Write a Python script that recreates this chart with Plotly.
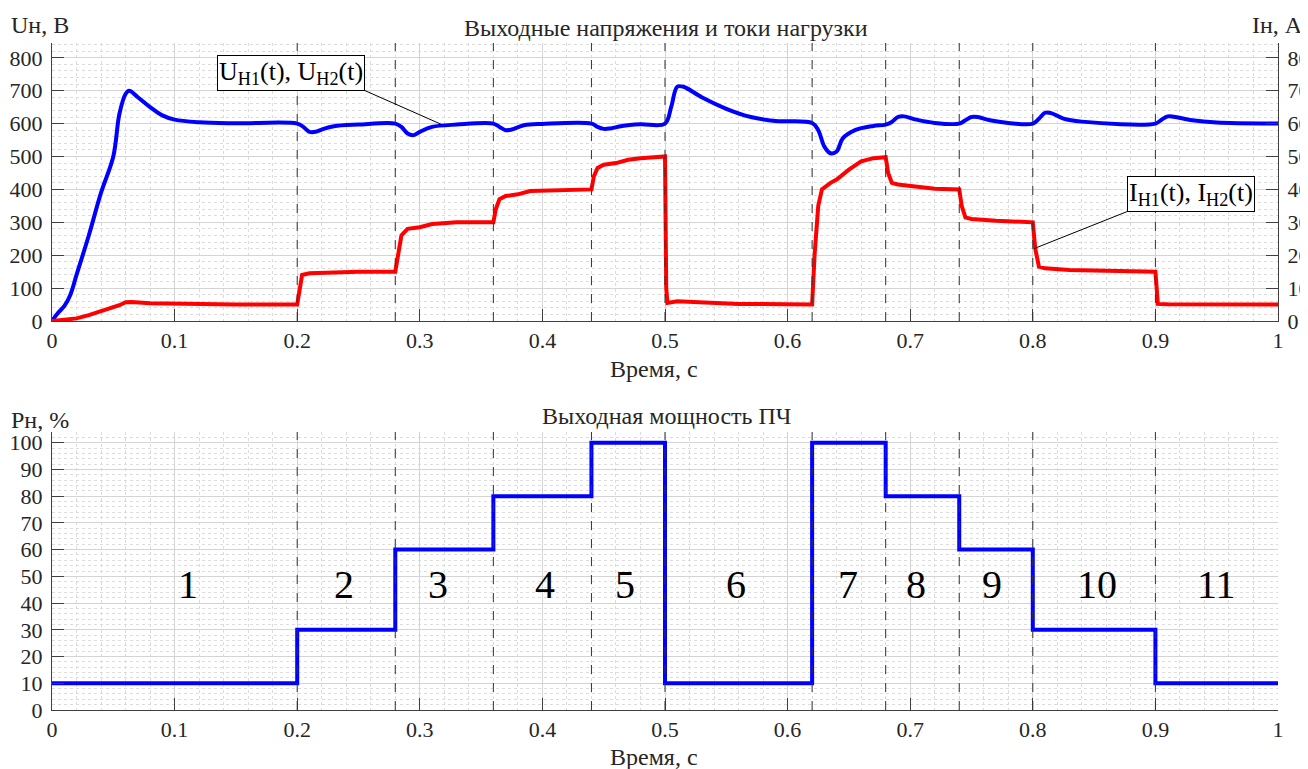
import plotly.graph_objects as go

# ---------------- data ----------------
t_u = [0, 0.005, 0.01, 0.015, 0.02, 0.03, 0.04, 0.05, 0.055, 0.06, 0.063, 0.07, 0.08, 0.09, 0.1,
       0.12, 0.15, 0.2, 0.205, 0.21, 0.215, 0.22, 0.23, 0.25, 0.28, 0.285, 0.29, 0.295, 0.3,
       0.31, 0.33, 0.36, 0.365, 0.37, 0.375, 0.385, 0.4, 0.44, 0.445, 0.45, 0.455, 0.465, 0.48,
       0.5, 0.505, 0.51, 0.515, 0.53, 0.55, 0.57, 0.59, 0.62, 0.625, 0.63, 0.635, 0.64, 0.645,
       0.655, 0.67, 0.68, 0.685, 0.69, 0.695, 0.705, 0.72, 0.74, 0.745, 0.75, 0.755, 0.765,
       0.78, 0.8, 0.805, 0.81, 0.815, 0.825, 0.84, 0.9, 0.905, 0.91, 0.915, 0.93, 0.95, 1.0]
u_vals = [0, 25, 45, 80, 140, 260, 390, 500, 630, 690, 700, 680, 650, 625, 612,
          604, 601, 600, 590, 575, 575, 582, 592, 597, 600, 590, 570, 565, 575,
          590, 597, 600, 590, 580, 582, 595, 599, 600, 590, 584, 585, 593, 598,
          600, 650, 712, 712, 680, 645, 620, 608, 602, 580, 530, 510, 515, 555,
          580, 593, 597, 605, 620, 622, 612, 602, 600, 610, 620, 620, 610,
          602, 600, 615, 633, 632, 615, 606, 600, 612, 622, 621, 610, 603, 600]

t_i = [0, 0.01, 0.02, 0.03, 0.04, 0.05, 0.055, 0.06, 0.065, 0.08, 0.1, 0.15, 0.2, 0.202, 0.204,
       0.21, 0.22, 0.25, 0.28, 0.282, 0.285, 0.29, 0.3, 0.31, 0.33, 0.36, 0.362, 0.365,
       0.37, 0.38, 0.39, 0.44, 0.442, 0.445, 0.45, 0.46, 0.47, 0.48, 0.5, 0.501, 0.502,
       0.51, 0.53, 0.56, 0.62, 0.622, 0.625, 0.628, 0.635, 0.64, 0.65, 0.66, 0.67, 0.68,
       0.682, 0.685, 0.69, 0.7, 0.72, 0.74, 0.742, 0.745, 0.75, 0.77, 0.8, 0.802, 0.805,
       0.81, 0.83, 0.9, 0.902, 0.91, 1.0]
i_vals = [0, 0.3, 0.8, 1.8, 3.0, 4.0, 4.8, 5.7, 5.8, 5.4, 5.2, 5.0, 5.0, 9, 14,
          14.5, 14.7, 15, 15, 20, 26, 28, 28.5, 29.5, 30, 30, 34, 37,
          38, 38.5, 39.5, 40, 44, 46.5, 47.5, 48, 49, 49.5, 50, 10, 5.5,
          6, 5.6, 5.2, 5.0, 20, 35, 40, 42, 43, 46, 48.5, 49.5, 49.8,
          45, 42, 41.5, 41, 40.2, 40, 35, 31.5, 31, 30.5, 30, 22, 16.5,
          16, 15.5, 15, 5.2, 5.1, 5]

t_steps = [0, 0.2, 0.28, 0.36, 0.44, 0.5, 0.62, 0.68, 0.74, 0.8, 0.9, 1.0]
p_vals = [10, 30, 60, 80, 100, 10, 100, 80, 60, 30, 10, 10]
switch_times = [0.2, 0.28, 0.36, 0.44, 0.5, 0.62, 0.68, 0.74, 0.8, 0.9]

region_labels = ["1", "2", "3", "4", "5", "6", "7", "8", "9", "10", "11"]
region_x = [0.111, 0.238, 0.315, 0.402, 0.467, 0.558, 0.649, 0.705, 0.767, 0.852, 0.950]
region_y = 47

x_ticks = [0, 0.1, 0.2, 0.3, 0.4, 0.5, 0.6, 0.7, 0.8, 0.9, 1]
x_ticktext = ["0", "0.1", "0.2", "0.3", "0.4", "0.5", "0.6", "0.7", "0.8", "0.9", "1"]

# ---------------- figure ----------------
# page body has an 8px margin: figure occupies window minus that offset
OFF = 8
W, H = 1308 - OFF, 769 - OFF
FONT = "Liberation Serif"
TXT = "#262626"
TICK = 22

def fx(px):
    return (px - OFF) / W

def fy(py):
    return 1 - (py - OFF) / H

fig = go.Figure()
fig.add_trace(go.Scatter(x=t_u, y=u_vals, mode="lines", line=dict(color="#0000ff", width=4),
                         xaxis="x", yaxis="y", showlegend=False, line_shape="spline"))
fig.add_trace(go.Scatter(x=t_i, y=i_vals, mode="lines", line=dict(color="#ff0000", width=4),
                         xaxis="x", yaxis="y2", showlegend=False))
fig.add_trace(go.Scatter(x=t_steps, y=p_vals, mode="lines", line=dict(color="#0000ff", width=4),
                         line_shape="hv", xaxis="x2", yaxis="y3", showlegend=False))

xd = [fx(52), fx(1278)]
top_dom = [fy(321), fy(43)]
bot_dom = [fy(710), fy(432)]

common_x = dict(range=[0, 1], tickvals=x_ticks, ticktext=x_ticktext, ticks="inside", ticklen=12,
                tickcolor="#404040", showline=True, linecolor="#404040", linewidth=1,
                showgrid=True, gridcolor="#d4d4d4", gridwidth=1, zeroline=False, automargin=False,
                tickfont=dict(family=FONT, size=TICK, color=TXT),
                minor=dict(dtick=0.02, tick0=0, showgrid=True, gridcolor="#dcdcdc", griddash="dot",
                           ticks=""),
                domain=xd)

ycommon = dict(ticks="inside", ticklen=12, tickcolor="#404040", showline=True, linecolor="#404040",
               zeroline=False, automargin=False, ticklabelstandoff=4,
               tickfont=dict(family=FONT, size=TICK, color=TXT))

fig.update_layout(
    width=W, height=H, margin=dict(l=0, r=0, t=0, b=0, autoexpand=False),
    paper_bgcolor="white", plot_bgcolor="white",
    font=dict(family=FONT, color=TXT),
    xaxis=dict(anchor="y", **common_x),
    yaxis=dict(domain=top_dom, range=[0, 845], tickvals=[0, 100, 200, 300, 400, 500, 600, 700, 800],
               showgrid=True, gridcolor="#d4d4d4",
               minor=dict(dtick=20, tick0=0, showgrid=True, gridcolor="#dcdcdc", griddash="dot", ticks=""),
               **ycommon),
    yaxis2=dict(overlaying="y", side="right", range=[0, 84.5],
                tickvals=[0, 10, 20, 30, 40, 50, 60, 70, 80],
                showgrid=False, anchor="x", **ycommon),
    xaxis2=dict(anchor="y3", **common_x),
    yaxis3=dict(domain=bot_dom, range=[0, 104], tickvals=list(range(0, 101, 10)),
                showgrid=True, gridcolor="#d4d4d4",
                minor=dict(dtick=2, tick0=0, showgrid=True, gridcolor="#dcdcdc", griddash="dot", ticks=""),
                **ycommon),
)

# dashed switching lines
for ts in switch_times:
    fig.add_shape(type="line", xref="x", yref="y domain", x0=ts, x1=ts, y0=0, y1=1,
                  line=dict(color="#333333", width=1, dash="dash"), layer="above")
    fig.add_shape(type="line", xref="x2", yref="y3 domain", x0=ts, x1=ts, y0=0, y1=1,
                  line=dict(color="#333333", width=1, dash="dash"), layer="above")

def ptxt(text, px, py, size=24, xanchor="center"):
    fig.add_annotation(text=text, x=fx(px), y=fy(py), xref="paper", yref="paper",
                       showarrow=False, xanchor=xanchor, yanchor="middle",
                       font=dict(family=FONT, size=size, color=TXT))

ptxt("Выходные напряжения и токи нагрузки", 666, 28)
ptxt("Uн, В", 9, 25, xanchor="left")
ptxt("Iн, A", 1305, 25, xanchor="right")
ptxt("Время, с", 654, 369)
ptxt("Выходная мощность ПЧ", 666, 416)
ptxt("Pн, %", 9, 420, xanchor="left")
ptxt("Время, с", 654, 757)

# region numbers
for lab, rx in zip(region_labels, region_x):
    fig.add_annotation(text=lab, x=rx, y=region_y, xref="x2", yref="y3", showarrow=False,
                       font=dict(family=FONT, size=40, color="black"))

# callouts
fig.add_annotation(text="U<sub>H1</sub>(t), U<sub>H2</sub>(t)", x=0.318, y=597, xref="x", yref="y",
                   showarrow=True, arrowhead=0, arrowwidth=1, arrowcolor="black",
                   ax=-77, ay=-34, xanchor="right", yanchor="bottom",
                   bordercolor="black", borderwidth=1, bgcolor="white", borderpad=1,
                   font=dict(family=FONT, size=26, color="black"))
fig.add_annotation(text="I<sub>H1</sub>(t), I<sub>H2</sub>(t)", x=0.801, y=22, xref="x", yref="y2",
                   showarrow=True, arrowhead=0, arrowwidth=1, arrowcolor="black",
                   ax=93, ay=-37, xanchor="left", yanchor="bottom",
                   bordercolor="black", borderwidth=1, bgcolor="white", borderpad=1,
                   font=dict(family=FONT, size=26, color="black"))

fig.write_html("out.html")
